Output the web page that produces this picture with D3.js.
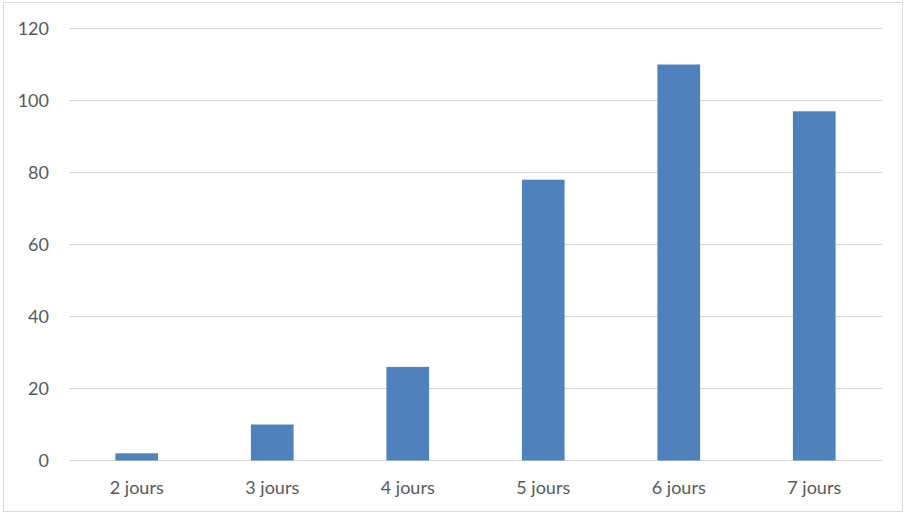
<!DOCTYPE html>
<html>
<head>
<meta charset="utf-8">
<script src="https://cdn.jsdelivr.net/npm/d3@7"></script>
<style>
  body { margin: 0; background: #fff; }
  .axis text { font-family: Lato, "Open Sans", sans-serif; font-size: 18px; fill: #595959; }
</style>
</head>
<body>
<div class="chart"></div>
<script>
const categories = ['2 jours', '3 jours', '4 jours', '5 jours', '6 jours', '7 jours'];
const values = [2, 10, 26, 78, 110, 97];
const yTicks = [0, 20, 40, 60, 80, 100, 120];

const W = 906, H = 514;
const margin = {top: 28.5, left: 69, bottom: 53.5, right: 24};
const width = W - margin.left - margin.right;
const height = H - margin.top - margin.bottom;

const svg = d3.select('.chart').append('svg')
    .attr('width', W)
    .attr('height', H);

// outer chart border
svg.append('rect')
    .attr('x', 3.5).attr('y', 2.5)
    .attr('width', W - 7).attr('height', H - 5)
    .attr('fill', 'none')
    .attr('stroke', '#d9d9d9')
    .attr('stroke-width', 1);

const g = svg.append('g')
    .attr('transform', 'translate(' + margin.left + ',' + margin.top + ')');

const x = d3.scaleBand()
    .domain(categories)
    .range([0, width])
    .paddingInner(0.685)
    .paddingOuter(0.3425);

const y = d3.scaleLinear()
    .domain([0, 120])
    .range([height, 0]);

// gridlines
g.selectAll('.grid')
    .data(yTicks)
    .enter()
    .append('line')
    .attr('class', 'grid')
    .attr('x1', 0).attr('x2', width)
    .attr('y1', d => y(d)).attr('y2', d => y(d))
    .attr('stroke', '#d9d9d9')
    .attr('stroke-width', 1);

const yAxis = d3.axisLeft(y).tickValues(yTicks).tickSize(0).tickPadding(20);
g.append('g')
    .attr('class', 'axis y-axis')
    .call(yAxis)
    .call(s => s.select('.domain').remove());

g.selectAll('.bar')
    .data(values)
    .enter()
    .append('rect')
    .attr('class', 'bar')
    .attr('x', (d, i) => x(categories[i]))
    .attr('width', x.bandwidth())
    .attr('y', d => y(d))
    .attr('height', d => y(0) - y(d))
    .attr('fill', '#4f81bd');

const xAxis = d3.axisBottom(x).tickSize(0).tickPadding(21);
g.append('g')
    .attr('class', 'axis x-axis')
    .attr('transform', 'translate(0,' + height + ')')
    .call(xAxis)
    .call(s => s.select('.domain').remove());
</script>
</body>
</html>
